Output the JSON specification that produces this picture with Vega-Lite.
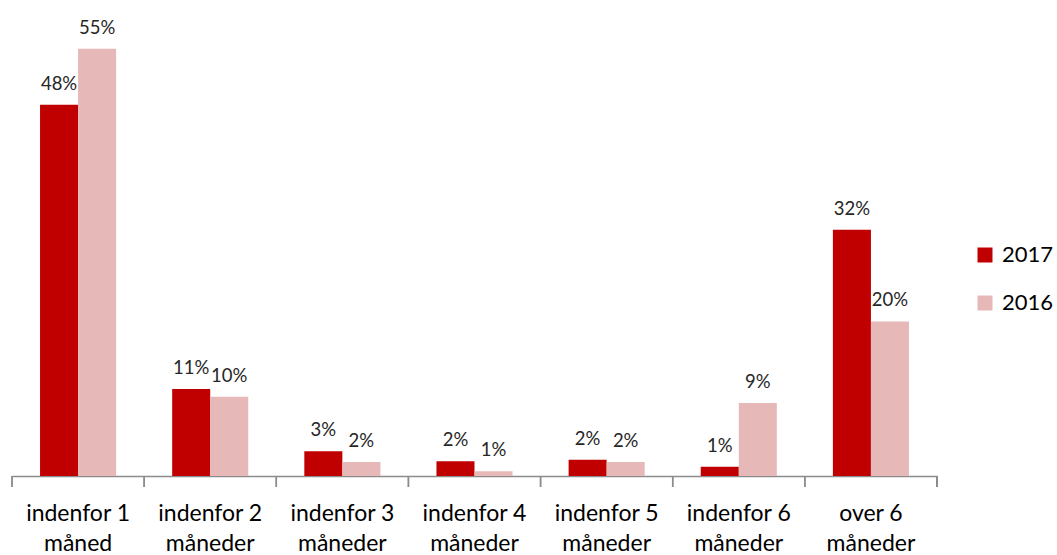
{
  "$schema": "https://vega.github.io/schema/vega-lite/v6.json",
  "width": 925,
  "height": 466,
  "autosize": "none",
  "padding": {"left": 12, "top": 10, "right": 120, "bottom": 79},
  "background": "white",
  "config": {"view": {"stroke": null}, "font": "Lato"},
  "data": {
    "values": [
      {"kategori": "indenfor 1 måned", "year": "2017", "andel": 0.478},
      {"kategori": "indenfor 1 måned", "year": "2016", "andel": 0.55},
      {"kategori": "indenfor 2 måneder", "year": "2017", "andel": 0.112},
      {"kategori": "indenfor 2 måneder", "year": "2016", "andel": 0.102},
      {"kategori": "indenfor 3 måneder", "year": "2017", "andel": 0.032},
      {"kategori": "indenfor 3 måneder", "year": "2016", "andel": 0.018},
      {"kategori": "indenfor 4 måneder", "year": "2017", "andel": 0.019},
      {"kategori": "indenfor 4 måneder", "year": "2016", "andel": 0.006},
      {"kategori": "indenfor 5 måneder", "year": "2017", "andel": 0.021},
      {"kategori": "indenfor 5 måneder", "year": "2016", "andel": 0.018},
      {"kategori": "indenfor 6 måneder", "year": "2017", "andel": 0.012},
      {"kategori": "indenfor 6 måneder", "year": "2016", "andel": 0.094},
      {"kategori": "over 6 måneder", "year": "2017", "andel": 0.317},
      {"kategori": "over 6 måneder", "year": "2016", "andel": 0.199}
    ]
  },
  "layer": [
    {
      "mark": {"type": "bar"},
      "encoding": {
        "x": {
          "field": "kategori",
          "type": "nominal",
          "sort": ["indenfor 1 måned", "indenfor 2 måneder", "indenfor 3 måneder", "indenfor 4 måneder", "indenfor 5 måneder", "indenfor 6 måneder", "over 6 måneder"],
          "scale": {"paddingInner": 0, "paddingOuter": 0},
          "axis": {
            "title": null,
            "labelAngle": 0,
            "labelFontSize": 23,
            "labelColor": "#000000",
            "labelLineHeight": 30,
            "labelPadding": 26,
            "labelExpr": "datum.value == 'over 6 måneder' ? ['over 6', 'måneder'] : [slice(datum.value, 0, 10), slice(datum.value, 11)]",
            "ticks": false,
            "domainColor": "#8c8c8c",
            "domainWidth": 1.5
          }
        },
        "xOffset": {
          "field": "year",
          "type": "nominal",
          "sort": ["2017", "2016"],
          "scale": {"paddingInner": 0, "paddingOuter": 0.737}
        },
        "y": {
          "field": "andel",
          "type": "quantitative",
          "scale": {"domain": [0, 0.6], "nice": false},
          "axis": null
        },
        "color": {
          "field": "year",
          "type": "nominal",
          "sort": ["2017", "2016"],
          "scale": {"domain": ["2017", "2016"], "range": ["#C00000", "#E6B9B8"]},
          "legend": {
            "title": null,
            "orient": "none",
            "legendX": 962,
            "legendY": 234,
            "padding": 0,
            "symbolType": "square",
            "symbolSize": 225,
            "symbolStrokeWidth": 0,
            "labelFontSize": 22,
            "labelColor": "#000000",
            "labelOffset": 6,
            "rowPadding": 26
          }
        }
      }
    },
    {
      "mark": {"type": "text", "baseline": "alphabetic", "dy": -15, "fontSize": 18.5, "color": "#262626"},
      "encoding": {
        "x": {"field": "kategori", "type": "nominal", "sort": ["indenfor 1 måned", "indenfor 2 måneder", "indenfor 3 måneder", "indenfor 4 måneder", "indenfor 5 måneder", "indenfor 6 måneder", "over 6 måneder"]},
        "xOffset": {"field": "year", "type": "nominal", "sort": ["2017", "2016"]},
        "y": {"field": "andel", "type": "quantitative"},
        "text": {"field": "andel", "type": "quantitative", "format": ".0%"}
      }
    },
    {
      "mark": {"type": "rule", "color": "#8c8c8c", "strokeWidth": 1.5},
      "encoding": {
        "x": {"field": "kategori", "type": "nominal", "bandPosition": 0, "sort": ["indenfor 1 måned", "indenfor 2 måneder", "indenfor 3 måneder", "indenfor 4 måneder", "indenfor 5 måneder", "indenfor 6 måneder", "over 6 måneder"]},
        "y": {"datum": 0, "type": "quantitative"},
        "y2": {"datum": -0.0142}
      }
    },
    {
      "mark": {"type": "rule", "color": "#8c8c8c", "strokeWidth": 1.5},
      "encoding": {
        "x": {"datum": "over 6 måneder", "type": "nominal", "bandPosition": 1},
        "y": {"datum": 0, "type": "quantitative"},
        "y2": {"datum": -0.0142}
      }
    }
  ]
}
